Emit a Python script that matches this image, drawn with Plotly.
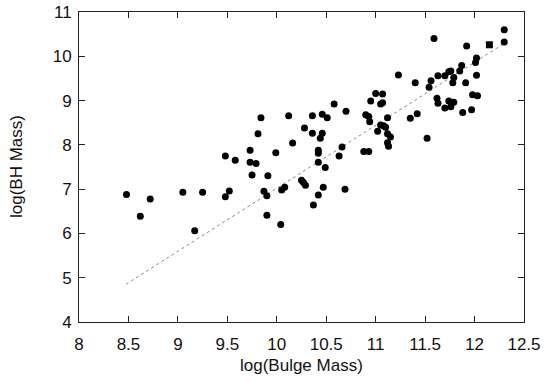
import plotly.graph_objects as go

# Galaxies: log(Bulge Mass) vs log(BH Mass)
bulge_mass = [8.48, 8.62, 8.72, 9.05, 9.25, 9.17, 9.48, 9.52, 9.58, 9.48,
              9.73, 9.73, 9.79, 9.75, 9.81, 9.84, 10.12, 10.16, 9.99, 9.91,
              10.08, 10.05, 9.87, 9.90, 9.90, 10.04, 10.36, 10.46, 10.51, 10.28,
              10.36, 10.46, 10.44, 10.42, 10.42, 10.42, 10.49, 10.25, 10.27, 10.29,
              10.47, 10.42, 10.37, 10.58, 10.70, 10.66, 10.63, 10.69, 11.00, 11.07,
              10.95, 11.05, 11.07, 10.90, 10.93, 10.94, 11.12, 11.05, 11.08, 11.10,
              11.02, 11.12, 11.15, 11.12, 11.13, 10.88, 10.93, 11.23, 11.40, 11.35,
              11.42, 11.52, 11.59, 12.30, 12.30, 11.92, 12.02, 12.01, 11.87, 11.74,
              11.76, 11.85, 11.63, 11.70, 11.79, 12.02, 11.56, 11.78, 11.91, 11.54,
              11.98, 12.03, 11.62, 11.63, 11.74, 11.79, 11.76, 11.70, 11.97, 11.88]
bh_mass = [6.88, 6.39, 6.78, 6.93, 6.93, 6.06, 6.83, 6.96, 7.65, 7.75,
           7.88, 7.61, 7.58, 7.32, 8.25, 8.61, 8.66, 8.04, 7.82, 7.30,
           7.04, 6.98, 6.95, 6.85, 6.41, 6.20, 8.66, 8.69, 8.61, 8.38,
           8.26, 8.26, 8.15, 7.88, 7.81, 7.61, 7.49, 7.20, 7.15, 7.09,
           7.04, 6.87, 6.64, 8.92, 8.76, 7.95, 7.75, 7.00, 9.16, 9.15,
           8.99, 8.92, 8.95, 8.68, 8.64, 8.52, 8.61, 8.45, 8.43, 8.40,
           8.31, 8.25, 8.18, 8.05, 7.97, 7.85, 7.85, 9.58, 9.40, 8.60,
           8.70, 8.15, 10.40, 10.60, 10.32, 10.23, 9.96, 9.86, 9.79, 9.65,
           9.67, 9.67, 9.56, 9.56, 9.52, 9.57, 9.45, 9.40, 9.40, 9.30,
           9.13, 9.11, 9.05, 8.94, 8.99, 8.96, 8.86, 8.83, 8.79, 8.73]

# Special object (square marker)
special_bulge = [12.15]
special_bh = [10.26]

# Fit line end points
fit_bulge = [8.475, 12.30]
fit_bh = [4.85, 10.29]

x_ticks = [8, 8.5, 9, 9.5, 10, 10.5, 11, 11.5, 12, 12.5]
y_ticks = [4, 5, 6, 7, 8, 9, 10, 11]

x_title = "log(Bulge Mass)"
y_title = "log(BH Mass)"

fig = go.Figure()
fig.add_trace(go.Scatter(x=fit_bulge, y=fit_bh, mode="lines",
                         line=dict(color="#888888", width=1, dash="dot"),
                         hoverinfo="skip", showlegend=False))
fig.add_trace(go.Scatter(x=bulge_mass, y=bh_mass, mode="markers",
                         marker=dict(symbol="circle", size=7, color="black"),
                         showlegend=False))
fig.add_trace(go.Scatter(x=special_bulge, y=special_bh, mode="markers",
                         marker=dict(symbol="square", size=7, color="black"),
                         showlegend=False))

font_family = "Liberation Sans, Arial, sans-serif"
axis_common = dict(showgrid=False, zeroline=False, showline=True,
                   linecolor="#222222", linewidth=1, mirror="allticks",
                   ticks="inside", ticklen=6, tickcolor="#222222",
                   automargin=False, ticklabeloverflow="allow",
                   tickfont=dict(family=font_family, size=17, color="#111111"))

fig.update_layout(
    width=550, height=382,
    margin=dict(l=79, r=26, t=12, b=60),
    paper_bgcolor="white", plot_bgcolor="white",
    font=dict(family=font_family, color="#111111"),
    xaxis=dict(range=[8, 12.5], tickvals=x_ticks,
               ticktext=[f"{v:g}" for v in x_ticks],
               ticklabelstandoff=7,
               **axis_common),
    yaxis=dict(range=[4, 11], tickvals=y_ticks,
               ticktext=[str(v) for v in y_ticks],
               ticklabelstandoff=3,
               **axis_common),
    annotations=[
        dict(text=x_title, xref="paper", yref="paper", x=0.5, y=0,
             xanchor="center", yanchor="middle", yshift=-43, showarrow=False,
             font=dict(family=font_family, size=17, color="#111111")),
        dict(text=y_title, xref="paper", yref="paper", x=0, y=0.5,
             xanchor="center", yanchor="middle", xshift=-63, textangle=-90,
             showarrow=False,
             font=dict(family=font_family, size=17, color="#111111")),
    ],
)

fig.write_html("out.html",
               config={"displayModeBar": False},
               post_script="document.body.style.margin='0';document.body.style.overflow='hidden';")
